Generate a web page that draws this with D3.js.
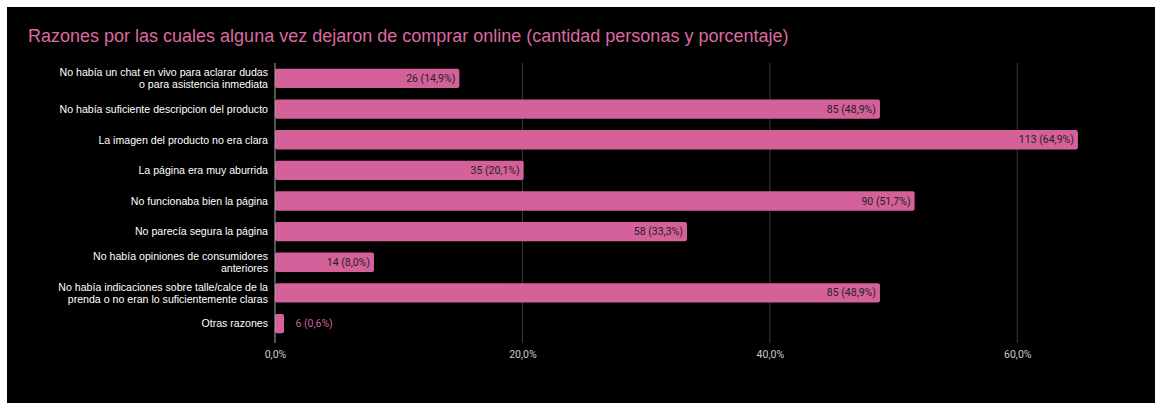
<!DOCTYPE html>
<html><head><meta charset="utf-8">
<script src="https://cdn.jsdelivr.net/npm/d3@7/dist/d3.min.js"></script>
<style>html,body{margin:0;padding:0;background:#fff;}svg{display:block;}</style>
</head><body>
<script>
const title = "Razones por las cuales alguna vez dejaron de comprar online (cantidad personas y porcentaje)";
const categories = [
  ["No había un chat en vivo para aclarar dudas","o para asistencia inmediata"],
  ["No había suficiente descripcion del producto"],
  ["La imagen del producto no era clara"],
  ["La página era muy aburrida"],
  ["No funcionaba bien la página"],
  ["No parecía segura la página"],
  ["No había opiniones de consumidores","anteriores"],
  ["No había indicaciones sobre talle/calce de la","prenda o no eran lo suficientemente claras"],
  ["Otras razones"]
];
const counts = [26, 85, 113, 35, 90, 58, 14, 85, 6];
const percents = [14.9, 48.9, 64.9, 20.1, 51.7, 33.3, 8.0, 48.9, 0.6];
const xTicks = [0, 20, 40, 60];

const W = 1155, H = 403;
const svg = d3.select("body").append("svg").attr("width", W).attr("height", H);
svg.append("rect").attr("x", 7).attr("y", 7).attr("width", W - 7).attr("height", H - 7).attr("fill", "#000");

const pink = "#d5619a";
svg.append("text").attr("x", 28).attr("y", 42).attr("fill", "#dc6aa0")
  .attr("font-family", "Liberation Sans, Arial, sans-serif").attr("font-size", 18).text(title);

const x0 = 275, x1 = 1141;
const x = d3.scaleLinear().domain([0, 70]).range([x0, x1]);
const y = d3.scaleBand().domain(d3.range(categories.length)).range([63, 339]).paddingInner(0.37).paddingOuter(0.19);

const fmt = v => v.toFixed(1).replace(".", ",");

// gridlines
svg.append("g").selectAll("line").data(xTicks.filter(t => t > 0)).join("line")
  .attr("x1", d => x(d)).attr("x2", d => x(d)).attr("y1", 63).attr("y2", 343)
  .attr("stroke", "#3a3a3a").attr("stroke-width", 1);

// bars
svg.append("g").selectAll("rect").data(percents).join("rect")
  .attr("x", x(0)).attr("y", (d, i) => y(i)).attr("height", y.bandwidth())
  .attr("width", d => Math.max(x(d) - x(0), 9)).attr("rx", 2).attr("fill", pink);

// zero axis line
svg.append("line").attr("x1", x(0)).attr("x2", x(0)).attr("y1", 63).attr("y2", 343)
  .attr("stroke", "#aaa").attr("stroke-width", 1);

// value labels
svg.append("g").selectAll("text").data(percents).join("text")
  .attr("x", (d, i) => (x(d) - x(0) > 60) ? x(d) - 4 : x(d) + 13)
  .attr("y", (d, i) => y(i) + y.bandwidth() / 2 + 3.5)
  .attr("text-anchor", (d) => (x(d) - x(0) > 60) ? "end" : "start")
  .attr("fill", (d) => (x(d) - x(0) > 60) ? "#222" : pink)
  .attr("font-family", "Roboto, sans-serif").attr("font-size", 10.5)
  .text((d, i) => `${counts[i]} (${fmt(d)}%)`);

// category labels
const cl = svg.append("g").selectAll("text").data(categories).join("text")
  .attr("x", 268).attr("y", (d, i) => y(i) + y.bandwidth() / 2 + 3.8 - (d.length - 1) * 6)
  .attr("text-anchor", "end").attr("fill", "#fff")
  .attr("font-family", "Liberation Sans, Arial, sans-serif").attr("font-size", 10.6);
cl.selectAll("tspan").data(d => d).join("tspan")
  .attr("x", 268).attr("dy", (d, i) => i === 0 ? 0 : 12).text(d => d);

// x axis labels
const ax = svg.append("g").attr("transform", `translate(0,343)`)
  .call(d3.axisBottom(x).tickValues(xTicks).tickSize(0).tickFormat(d => fmt(d) + "%"));
ax.select(".domain").remove();
ax.selectAll("text").attr("fill", "#ccc").attr("font-family", "Roboto, sans-serif").attr("font-size", 10.5).attr("dy", "1.1em");
</script>
</body></html>
